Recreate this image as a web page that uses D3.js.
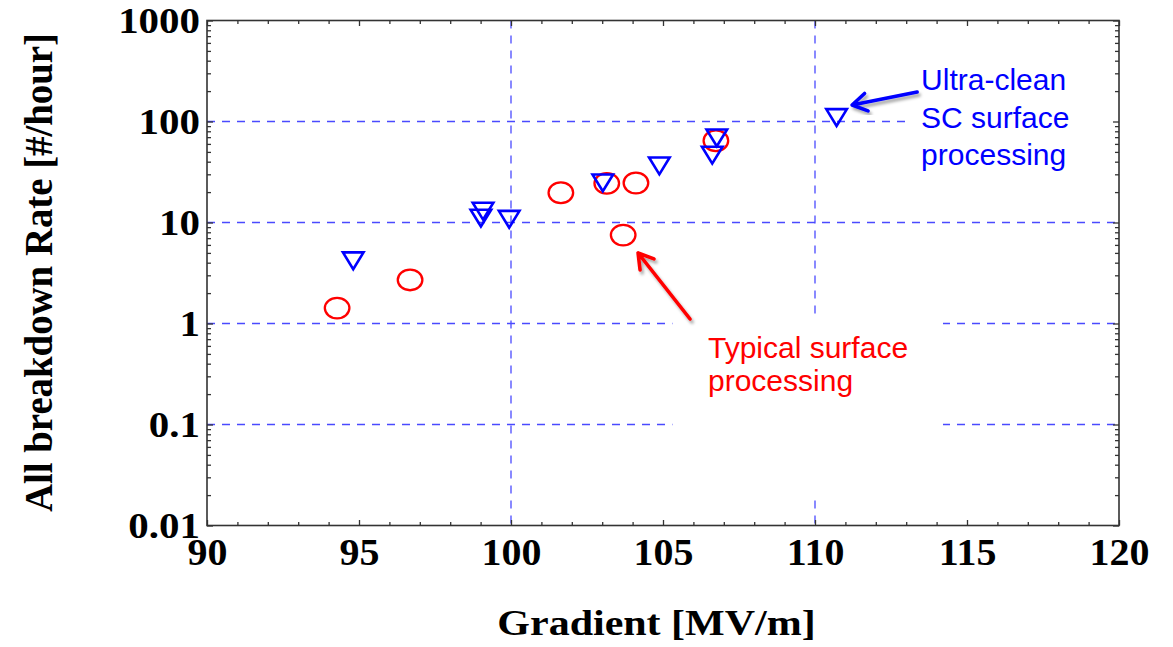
<!DOCTYPE html>
<html><head><meta charset="utf-8">
<script src="https://cdn.jsdelivr.net/npm/d3@7"></script>
<style>body{margin:0;background:#fff} svg{display:block}</style>
</head><body><svg id="c" width="1173" height="647"></svg>
<script>
// ---- data ----
const typicalX = [94.28, 96.68, 101.64, 103.15, 103.69, 104.11, 106.74];
const typicalY = [1.42, 2.7, 19.7, 24.4, 7.5, 24.6, 64.5];
const cleanX = [94.81, 99.08, 99.01, 99.94, 103.02, 104.88, 106.62, 106.77, 110.71];
const cleanY = [4.2, 13.0, 11.1, 10.8, 24.8, 36.5, 46.6, 69.2, 110];
const xTicks = [90, 95, 100, 105, 110, 115, 120];
const xTickLabels = ["90", "95", "100", "105", "110", "115", "120"];
const yTicks = [0.01, 0.1, 1, 10, 100, 1000];
const yTickLabels = ["0.01", "0.1", "1", "10", "100", "1000"];
const xGrid = [100, 110];
const yGrid = [0.1, 1, 10, 100];
const xTitle = "Gradient [MV/m]";
const yTitle = "All breakdown Rate [#/hour]";
const cleanLabel = ["Ultra-clean", "SC surface", "processing"];
const typicalLabel = ["Typical surface", "processing"];

const svg = d3.select("#c");
const L = 207, R = 1119, T = 20.5, B = 525.5;
const x = d3.scaleLinear().domain([90, 120]).range([L, R]);
const y = d3.scaleLog().domain([0.01, 1000]).range([B, T]);

const defs = svg.append("defs");
defs.append("filter").attr("id", "sh").attr("x", "-20%").attr("y", "-20%").attr("width", "140%").attr("height", "140%")
  .append("feDropShadow").attr("dx", 2).attr("dy", 3).attr("stdDeviation", 1.6)
  .attr("flood-color", "#000").attr("flood-opacity", 0.35);

// grid
const gridColor = "#4a4aff";
const grid = svg.append("g").attr("stroke", gridColor).attr("stroke-width", 1.3).attr("stroke-dasharray", "8,7");
grid.selectAll(".gy").data(yGrid).join("line")
  .attr("x1", L).attr("x2", R).attr("y1", d => y(d)).attr("y2", d => y(d));
grid.selectAll(".gx").data(xGrid).join("line")
  .attr("y1", T).attr("y2", B).attr("x1", d => x(d)).attr("x2", d => x(d));

// white boxes behind annotations (hide grid)
svg.append("rect").attr("x", x(105.31)).attr("y", y(1.16)).attr("width", x(114.21) - x(105.31))
  .attr("height", y(0.0205) - y(1.16)).attr("fill", "#fff");
svg.append("rect").attr("x", x(113.0)).attr("y", y(400)).attr("width", x(119.9) - x(113.0))
  .attr("height", y(14) - y(400)).attr("fill", "#fff");

// axes / ticks
const axisColor = "#333";
const minorX = d3.range(90, 121).filter(v => v % 5 !== 0);
const minorY = [];
[0.01, 0.1, 1, 10, 100].forEach(dec => { for (let k = 2; k <= 9; k++) minorY.push(dec * k); });

function styleAxis(g) {
  g.selectAll("line").attr("stroke", axisColor).attr("stroke-width", 1.3);
  g.select(".domain").remove();
}
svg.append("g").attr("transform", `translate(0,${B})`).call(d3.axisBottom(x).tickValues(xTicks).tickSize(-5.5).tickFormat("")).call(styleAxis);
svg.append("g").attr("transform", `translate(0,${B})`).call(d3.axisBottom(x).tickValues(minorX).tickSize(-3.5).tickFormat("")).call(styleAxis);
svg.append("g").attr("transform", `translate(0,${T})`).call(d3.axisTop(x).tickValues(xTicks).tickSize(-5.5).tickFormat("")).call(styleAxis);
svg.append("g").attr("transform", `translate(0,${T})`).call(d3.axisTop(x).tickValues(minorX).tickSize(-3.5).tickFormat("")).call(styleAxis);
svg.append("g").attr("transform", `translate(${L},0)`).call(d3.axisLeft(y).tickValues(yTicks).tickSize(-6).tickFormat("")).call(styleAxis);
svg.append("g").attr("transform", `translate(${L},0)`).call(d3.axisLeft(y).tickValues(minorY).tickSize(-4).tickFormat("")).call(styleAxis);
svg.append("g").attr("transform", `translate(${R},0)`).call(d3.axisRight(y).tickValues(yTicks).tickSize(-6).tickFormat("")).call(styleAxis);
svg.append("g").attr("transform", `translate(${R},0)`).call(d3.axisRight(y).tickValues(minorY).tickSize(-4).tickFormat("")).call(styleAxis);

svg.append("rect").attr("x", L).attr("y", T).attr("width", R - L).attr("height", B - T)
  .attr("fill", "none").attr("stroke", axisColor).attr("stroke-width", 1.6);

// tick labels
const serif = "'Liberation Serif','Times New Roman',serif";
const xl = svg.append("g").attr("transform", `translate(0,${B})`)
  .call(d3.axisBottom(x).tickValues(xTicks).tickSize(0).tickFormat((d, i) => xTickLabels[i]));
xl.select(".domain").remove();
xl.selectAll("text").attr("font-family", serif).attr("font-weight", "bold").attr("font-size", 37)
  .attr("fill", "#000").attr("y", 39.5).attr("dy", 0).attr("transform", "scale(1.08,1)");

const yl = svg.append("g").attr("transform", `translate(${L},0)`)
  .call(d3.axisLeft(y).tickValues(yTicks).tickSize(0).tickFormat((d, i) => yTickLabels[i]));
yl.select(".domain").remove();
yl.selectAll("text").attr("font-family", serif).attr("font-weight", "bold").attr("font-size", 35)
  .attr("fill", "#000").attr("x", -7 / 1.17).attr("dy", "0.34em").attr("transform", "scale(1.17,1)");

// titles
svg.append("text").attr("transform", `translate(656.5,635) scale(1.2,1)`).attr("text-anchor", "middle")
  .attr("font-family", serif).attr("font-weight", "bold").attr("font-size", 35).attr("fill", "#000").text(xTitle);
svg.append("text").attr("transform", `translate(52,272.5) rotate(-90)`).attr("text-anchor", "middle")
  .attr("font-family", serif).attr("font-weight", "bold").attr("font-size", 41)
  .attr("textLength", 479).attr("lengthAdjust", "spacingAndGlyphs").attr("fill", "#000").text(yTitle);

// data marks
const typical = typicalX.map((v, i) => [v, typicalY[i]]);
const clean = cleanX.map((v, i) => [v, cleanY[i]]);
svg.append("g").selectAll("ellipse").data(typical).join("ellipse")
  .attr("cx", d => x(d[0])).attr("cy", d => y(d[1])).attr("rx", 12.3).attr("ry", 10.3)
  .attr("fill", "none").attr("stroke", "#ff0000").attr("stroke-width", 2.3);
svg.append("g").selectAll("path").data(clean).join("path")
  .attr("transform", d => `translate(${x(d[0])},${y(d[1])})`)
  .attr("d", "M-10.3,-8.2L10.3,-8.2L0,8.6Z")
  .attr("fill", "none").attr("stroke", "#0000ff").attr("stroke-width", 2.6).attr("stroke-linejoin", "miter");

// annotations
function arrow(tail, tip, color) {
  const x1 = x(tail[0]), y1 = y(tail[1]), x2 = x(tip[0]), y2 = y(tip[1]);
  const a = Math.atan2(y2 - y1, x2 - x1), len = 17, ha = 0.55;
  const p1 = [x2 - len * Math.cos(a - ha), y2 - len * Math.sin(a - ha)];
  const p2 = [x2 - len * Math.cos(a + ha), y2 - len * Math.sin(a + ha)];
  svg.append("path").attr("d", `M${x1},${y1}L${x2},${y2}M${p1}L${x2},${y2}L${p2}`)
    .attr("fill", "none").attr("stroke", color).attr("stroke-width", 3.6)
    .attr("stroke-linecap", "round").attr("stroke-linejoin", "round").attr("filter", "url(#sh)");
}
arrow([113.36, 196], [111.22, 145.6], "#0000ff");
arrow([105.89, 1.108], [104.18, 4.99], "#ff0000");

const sans = "'Liberation Sans',Arial,sans-serif";
const ct = svg.append("text").attr("x", x(113.49)).attr("y", y(205)).attr("font-family", sans)
  .attr("font-size", 30).attr("fill", "#0000ff");
cleanLabel.forEach((s, i) => ct.append("tspan").attr("x", x(113.49)).attr("dy", i ? 37.5 : 0).text(s));
const tt = svg.append("text").attr("x", x(106.48)).attr("y", y(0.452)).attr("font-family", sans)
  .attr("font-size", 30).attr("fill", "#ff0000");
typicalLabel.forEach((s, i) => tt.append("tspan").attr("x", x(106.48)).attr("dy", i ? 33 : 0).text(s));
</script></body></html>
